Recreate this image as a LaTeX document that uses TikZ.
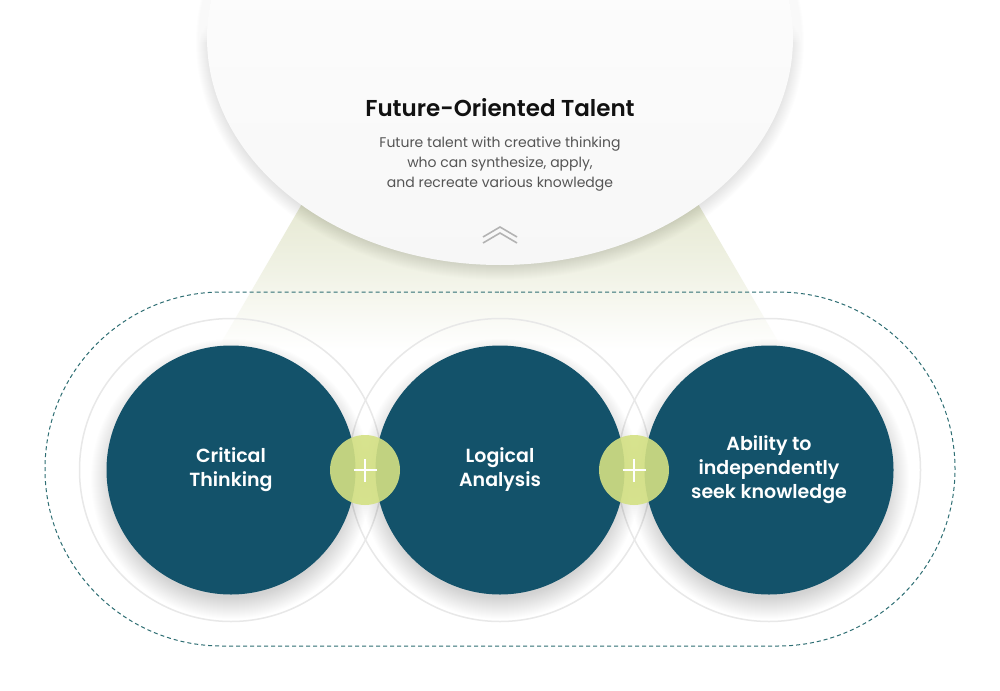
\documentclass[tikz,border=0pt]{standalone}
\usepackage{fontspec}
\setmainfont{Poppins}
\newfontfamily\psemi{Poppins SemiBold}
\usetikzlibrary{shapes.geometric,shapes.misc}
\definecolor{darkteal}{HTML}{13526A}
\definecolor{limec}{HTML}{D4E183}
\definecolor{dashc}{HTML}{2E6E73}
\definecolor{ringc}{HTML}{E8E8E8}
\definecolor{beamc}{HTML}{E4E7CF}
\definecolor{subc}{HTML}{555555}
\definecolor{chevc}{HTML}{B3B3B3}
\definecolor{topbot}{HTML}{F7F7F7}
\definecolor{titlec}{HTML}{111111}
\tikzset{
  ring/.style={circle, draw=ringc, line width=1.5pt, minimum size=303pt, inner sep=0pt},
  core/.style={circle, fill=darkteal, minimum size=249pt, inner sep=0pt, text=white,
    font=\psemi\fontsize{19}{24}\selectfont, align=center},
  joiner/.style={circle, fill=limec, fill opacity=0.9, minimum size=70pt, inner sep=0pt},
  plusline/.style={white, line width=2.2pt},
  chevline/.style={chevc, line width=1.6pt},
  frame/.style={rounded rectangle, draw=dashc, line width=1pt, dash pattern=on 4pt off 3pt,
    minimum width=910pt, minimum height=354pt, inner sep=0pt},
  topdisc/.style={ellipse, minimum width=586pt, minimum height=454pt, inner sep=0pt,
    top color=white, bottom color=topbot},
  shadowlayer/.style={black, opacity=0.009},
  topshadowlayer/.style={black, opacity=0.007},
}
\begin{document}
\begin{tikzpicture}[x=1pt,y=-1pt]
\fill[white] (0,0) rectangle (1000,690);
\useasboundingbox (0,0) rectangle (1000,690);
\coordinate (k1) at (231,470);
\coordinate (k2) at (500,470);
\coordinate (k3) at (769,470);
\coordinate (kt) at (500,38);
% beam
\shade[top color=beamc, bottom color=white, middle color=beamc!55] (310,190) -- (690,190) -- (783,350) -- (217,350) -- cycle;
% dashed frame
\node[frame] (frm) at (500,469) {};
% rings
\node[ring] (r1) at (k1) {};
\node[ring] (r2) at (k2) {};
\node[ring] (r3) at (k3) {};
% top disc shadow
\foreach \i in {1,...,18}{
  \fill[topshadowlayer] ([yshift=-4pt]kt) ellipse [x radius=286+\i, y radius=220+\i];
}
\node[topdisc] (top) at (kt) {};
\foreach \i in {0,...,19}{
  \fill[white, opacity=0.16] (150,-2) rectangle (850,42-2*\i);
}
\node[font=\psemi\fontsize{23}{27}\selectfont, text=titlec] (title) at (500,108) {Future-Oriented Talent};
\node[font=\fontsize{14}{20}\selectfont, text=subc, align=center] (sub) at (500,164)
  {Future talent with creative thinking\\who can synthesize, apply,\\and recreate various knowledge};
\coordinate (chv) at (500,235);
\draw[chevline] ([shift={(-17pt,-2pt)}]chv) -- ([shift={(0pt,8pt)}]chv) -- ([shift={(17pt,-2pt)}]chv);
\draw[chevline] ([shift={(-17pt,-8pt)}]chv) -- ([shift={(0pt,2pt)}]chv) -- ([shift={(17pt,-8pt)}]chv);
% core shadows
\foreach \k in {k1,k2,k3}{
  \foreach \i in {1,...,22}{
    \fill[shadowlayer] ([yshift=-9pt]\k) circle [radius=118+\i];
  }
}
% core circles
\node[core] (c1) at (k1) {Critical\\Thinking};
\node[core] (c2) at (k2) {Logical\\Analysis};
\node[core] (c3) at (k3) {Ability to\\independently\\seek knowledge};
% joiners
\node[joiner] (p1) at (365,470) {};
\node[joiner] (p2) at (634,470) {};
\foreach \p in {p1,p2}{
  \draw[plusline] ([xshift=-11.5pt]\p.center) -- ([xshift=11.5pt]\p.center);
  \draw[plusline] ([yshift=-11.5pt]\p.center) -- ([yshift=11.5pt]\p.center);
}
\end{tikzpicture}
\end{document}
